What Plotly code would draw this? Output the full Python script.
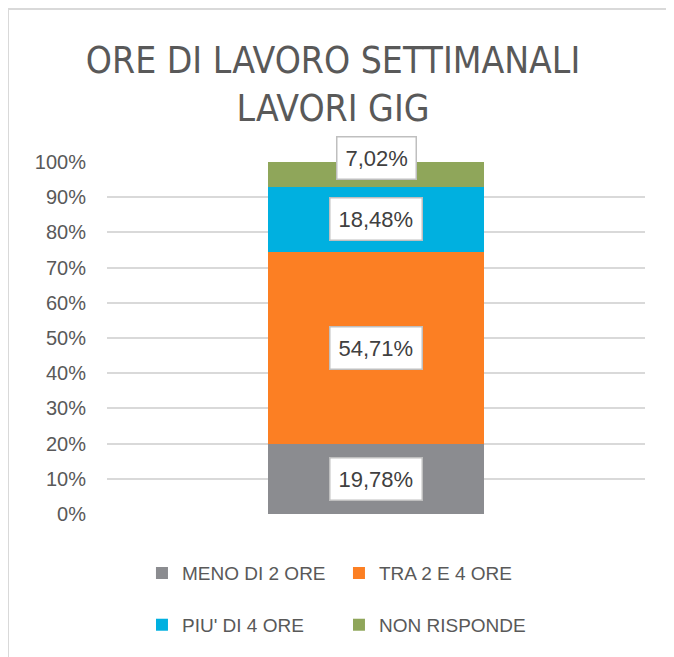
import plotly.graph_objects as go

categories = ["LAVORI GIG"]
series = ["MENO DI 2 ORE", "TRA 2 E 4 ORE", "PIU' DI 4 ORE", "NON RISPONDE"]
values = [19.78, 54.71, 18.48, 7.02]
colors = ["#8B8C90", "#FC7F23", "#00B0E0", "#8FA65A"]
yticks = [0, 10, 20, 30, 40, 50, 60, 70, 80, 90, 100]
yticklabels = [f"{t}%" for t in yticks]

TXT = "#595959"
FONT = "Liberation Sans"

fig = go.Figure()
for i, (name, v, c) in enumerate(zip(series, values, colors)):
    fig.add_bar(x=categories, y=[v], name=name, marker_color=c, marker_line_width=0,
                legend="legend" if i < 2 else "legend2", hoverinfo="skip")

# data labels in white boxes, centred in each segment
base = 0
for i, v in enumerate(values):
    fig.add_annotation(x=categories[0], y=base + v / 2, text=f"{v:.2f}%".replace(".", ","),
                       showarrow=False, font=dict(family=FONT, size=22, color="#404040"),
                       bgcolor="white", bordercolor="#BFBFBF", borderwidth=1.5, borderpad=8,
                       yshift=16 if i == len(values) - 1 else 0)
    base += v

leg = dict(orientation="h", x=0.065, xanchor="left", yanchor="middle",
           traceorder="normal", entrywidth=152, itemclick=False,
           font=dict(family=FONT, size=19, color=TXT))

fig.update_layout(
    width=666, height=649,
    margin=dict(l=99, r=29, t=154, b=143),
    paper_bgcolor="white", plot_bgcolor="white",
    barmode="stack", bargap=0.6,
    showlegend=True,
    title=dict(text="ORE DI LAVORO SETTIMANALI<br>LAVORI GIG", x=0.488, xanchor="center",
               y=0.90, yanchor="middle",
               font=dict(family="DejaVu Sans Condensed, Liberation Sans", size=37, color=TXT)),
    xaxis=dict(showticklabels=False, showgrid=False, zeroline=False, showline=False),
    yaxis=dict(range=[0, 100], tickvals=yticks, ticktext=yticklabels, showgrid=True,
               gridcolor="#D9D9D9", gridwidth=1.5, zeroline=False, showline=False,
               ticklabelstandoff=20, tickfont=dict(family=FONT, size=20, color=TXT)),
    legend=dict(leg, y=-0.168),
    legend2=dict(leg, y=-0.315),
    shapes=[
        dict(type="line", xref="paper", yref="paper", x0=-0.184, x1=1.06, y0=1.4347, y1=1.4347,
             line=dict(color="#D9D9D9", width=2)),
        dict(type="line", xref="paper", yref="paper", x0=-0.184, x1=-0.184, y0=1.4347, y1=-0.42,
             line=dict(color="#D9D9D9", width=2)),
    ],
)

fig.write_html("out.html")
